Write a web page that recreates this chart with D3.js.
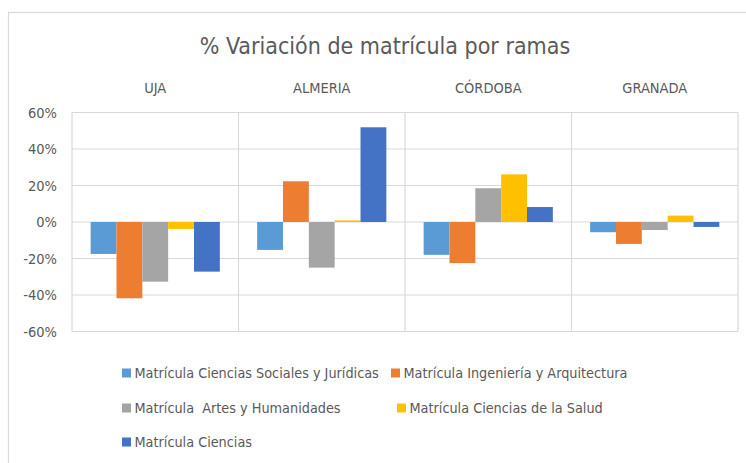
<!DOCTYPE html>
<html>
<head>
<meta charset="utf-8">
<script src="https://cdn.jsdelivr.net/npm/d3@7"></script>
<style>
  html, body { margin: 0; padding: 0; background: #fff; }
  svg { display: block; }
  text { font-family: "Liberation Sans Narrow", "DejaVu Sans Condensed", "Open Sans", sans-serif; fill: #595959; white-space: pre; }
</style>
</head>
<body>
<div id="chart"></div>
<script>
// Universities (panels across the top)
const universities = ['UJA', 'ALMERIA', 'CÓRDOBA', 'GRANADA'];

// Branches (series)
const series = [
    'Matrícula Ciencias Sociales y Jurídicas',
    'Matrícula Ingeniería y Arquitectura',
    'Matrícula  Artes y Humanidades',
    'Matrícula Ciencias de la Salud',
    'Matrícula Ciencias'
];

// % variation, one array per branch, in university order
const sociales   = [-17.5, -15.3, -18.0, -5.6];
const ingenieria = [-41.8, 22.3, -22.5, -12.0];
const artes      = [-32.7, -25.0, 18.5, -4.4];
const salud      = [-3.8, 0.9, 26.1, 3.5];
const ciencias   = [-27.2, 51.9, 8.2, -2.7];

const yTicks = [-60, -40, -20, 0, 20, 40, 60];

const colors = ['#5B9BD5', '#ED7D31', '#A5A5A5', '#FFC000', '#4472C4'];

const width = 746, height = 463;
const plot = { left: 72, right: 738, top: 112.5, bottom: 331.5 };

const rows = [sociales, ingenieria, artes, salud, ciencias];
const data = [];
universities.forEach((u, i) => {
    series.forEach((s, j) => data.push({ uni: u, serie: s, value: rows[j][i] }));
});

const svg = d3.select('#chart').append('svg')
    .attr('width', width)
    .attr('height', height);

// chart frame (only top and left edges are inside the picture)
svg.append('rect')
    .attr('x', 8.5).attr('y', 12.5)
    .attr('width', 760).attr('height', 470)
    .attr('fill', '#fff')
    .attr('stroke', '#D9D9D9')
    .attr('stroke-width', 1.2);

// Title
svg.append('text')
    .attr('x', 385)
    .attr('y', 54)
    .attr('text-anchor', 'middle')
    .style('font-size', '23px')
    .text('% Variación de matrícula por ramas');

// Scales
const x0 = d3.scaleBand()
    .domain(universities)
    .range([plot.left, plot.right])
    .padding(0);

const inset = x0.bandwidth() * 0.112;
const x1 = d3.scaleBand()
    .domain(series)
    .range([inset, x0.bandwidth() - inset])
    .padding(0);

const y = d3.scaleLinear()
    .domain([-60, 60])
    .range([plot.bottom, plot.top]);

// Horizontal gridlines
svg.append('g')
    .selectAll('line')
    .data(yTicks)
    .enter().append('line')
        .attr('x1', plot.left)
        .attr('x2', plot.right)
        .attr('y1', d => y(d))
        .attr('y2', d => y(d))
        .attr('stroke', '#D9D9D9')
        .attr('stroke-width', 1.2);

// Panel separators and outer vertical edges
svg.append('g')
    .selectAll('line')
    .data(universities.map(u => x0(u)).concat([plot.right]))
    .enter().append('line')
        .attr('x1', d => d)
        .attr('x2', d => d)
        .attr('y1', plot.top)
        .attr('y2', plot.bottom)
        .attr('stroke', '#D9D9D9')
        .attr('stroke-width', 1.2);

// Y axis labels
const yAxis = svg.append('g')
    .attr('transform', `translate(${plot.left}, 0)`)
    .call(d3.axisLeft(y).tickValues(yTicks).tickFormat(d => d + '%').tickSize(0).tickPadding(15));
yAxis.select('.domain').remove();
yAxis.selectAll('text')
    .style('font-size', '14.5px')
    .attr('fill', '#595959');

// Panel labels
svg.append('g')
    .selectAll('text')
    .data(universities)
    .enter().append('text')
        .attr('x', d => x0(d) + x0.bandwidth() / 2)
        .attr('y', 93)
        .attr('text-anchor', 'middle')
        .style('font-size', '14.5px')
        .text(d => d);

// Bars
svg.append('g')
    .selectAll('rect')
    .data(data)
    .enter().append('rect')
        .attr('x', d => x0(d.uni) + x1(d.serie))
        .attr('width', x1.bandwidth())
        .attr('y', d => y(Math.max(0, d.value)))
        .attr('height', d => Math.abs(y(d.value) - y(0)))
        .attr('fill', d => colors[series.indexOf(d.serie)]);

// Legend
const legendPos = [[122, 373], [391, 373], [122, 408], [397, 408], [122, 442]];
const legend = svg.append('g')
    .selectAll('g')
    .data(series)
    .enter().append('g')
        .attr('transform', (d, i) => `translate(${legendPos[i][0]}, ${legendPos[i][1]})`);

legend.append('rect')
    .attr('x', 0).attr('y', -4.5)
    .attr('width', 9).attr('height', 9)
    .attr('fill', (d, i) => colors[i]);

legend.append('text')
    .attr('x', 12.5)
    .attr('y', 5)
    .style('font-size', '14.3px')
    .text(d => d);
</script>
</body>
</html>
